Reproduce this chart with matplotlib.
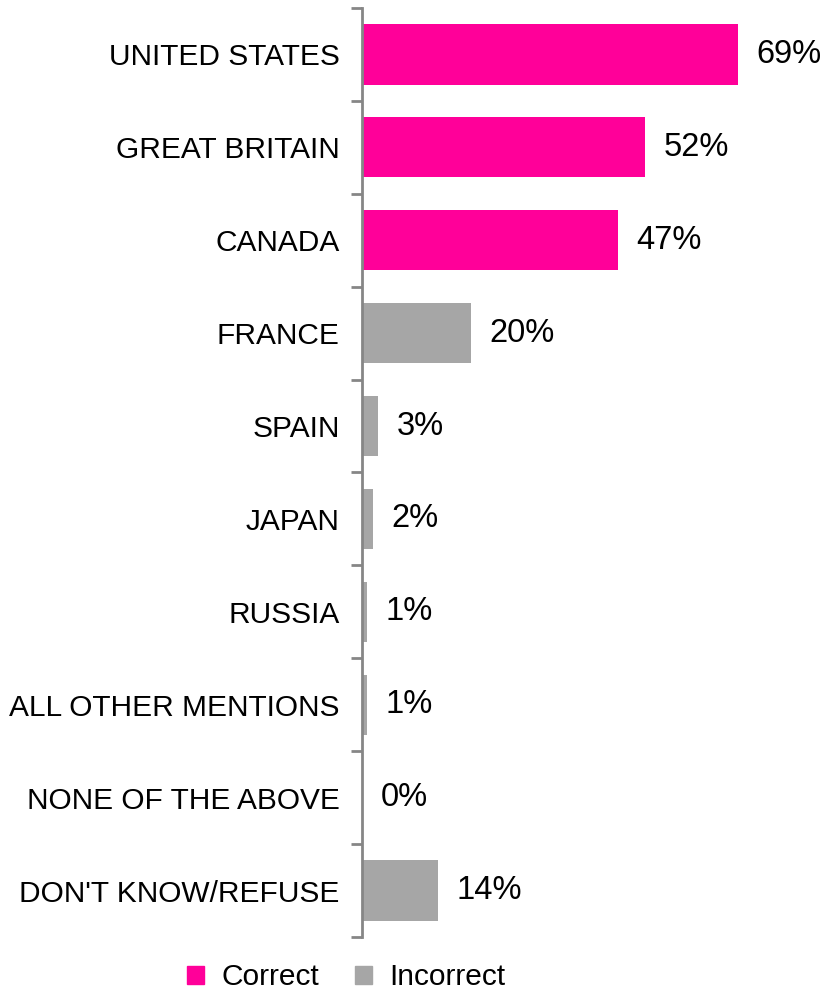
import matplotlib.pyplot as plt
from matplotlib.patches import Patch

plt.rcParams['font.family'] = ['Liberation Sans', 'DejaVu Sans']

# answers, top to bottom
countries = ['UNITED STATES', 'GREAT BRITAIN', 'CANADA', 'FRANCE', 'SPAIN',
             'JAPAN', 'RUSSIA', 'ALL OTHER MENTIONS', 'NONE OF THE ABOVE',
             "DON'T KNOW/REFUSE"]
share = [69, 52, 47, 20, 3, 2, 1, 1, 0, 14]
correct = [True, True, True, False, False, False, False, False, False, False]

PINK = '#FF0099'
GREY = '#A6A6A6'
AXIS = '#868686'
FS = 21.5

fig = plt.figure(figsize=(8.25, 9.93), dpi=100)
ax = fig.add_axes([0.4388, 0.0564, 0.52, 0.9356])

n = len(countries)
ypos = list(range(n))
colors = [PINK if c else GREY for c in correct]
ax.barh(ypos, share, height=0.65, color=colors, zorder=2)

for y, v in zip(ypos, share):
    ax.text(v + 3.4, y, f'{v}%', va='center', ha='left', fontsize=23.5)

ax.set_ylim(n - 0.5, -0.5)
ax.set_xlim(0, 78.7)

# category labels, ticks sit between categories
ax.set_yticks(ypos)
ax.set_yticklabels(countries, fontsize=FS)
ax.tick_params(axis='y', which='major', length=0, pad=16)
ax.set_yticks([i - 0.5 for i in range(n + 1)], minor=True)
ax.tick_params(axis='y', which='minor', length=8, width=2, color=AXIS)

ax.set_xticks([])
for side in ['top', 'right', 'bottom']:
    ax.spines[side].set_visible(False)
ax.spines['left'].set_color(AXIS)
ax.spines['left'].set_linewidth(2)

handles = [Patch(color=PINK, label='Correct'), Patch(color=GREY, label='Incorrect')]
fig.legend(handles=handles, loc='center', bbox_to_anchor=(0.42, 0.016),
           ncol=2, frameon=False, fontsize=FS, handlelength=0.55, handleheight=0.55,
           handletextpad=0.6, columnspacing=1.2, borderpad=0)

fig.savefig('out.png', dpi=100)
